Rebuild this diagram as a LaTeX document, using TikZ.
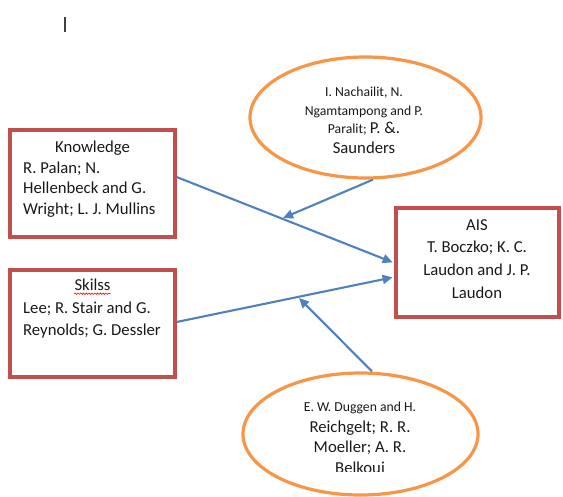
\documentclass[tikz,border=0pt]{standalone}
\usepackage{fontspec}
\setmainfont{Carlito}
\usetikzlibrary{arrows.meta,shapes.geometric,decorations.pathmorphing}
\definecolor{boxred}{RGB}{192,80,77}
\definecolor{ellorange}{RGB}{247,150,70}
\definecolor{arrowblue}{RGB}{79,129,189}
\newcommand{\bigtxt}{\fontsize{16.7}{20.5}\selectfont}
\newcommand{\smalltxt}{\fontsize{13.7}{18.3}\selectfont}

\begin{document}
\begin{tikzpicture}[x=1pt,y=-1pt,
    factor/.style={draw=boxred,line width=3.2pt,minimum width=165pt,minimum height=107pt,inner sep=0pt},
    source/.style={draw=ellorange,line width=3.2pt,ellipse,inner sep=0pt},
    names/.style={inner sep=0pt,font=\bigtxt,text=black!90},
    link/.style={draw=arrowblue,line width=2.1pt,-{Triangle[length=10pt,width=9pt]}}]

      \useasboundingbox (0,0) rectangle (563,496);
      % cursor
      \draw[line width=1.4pt,color=black!75] (65,17) -- (65,32);

      % boxes and ellipses
      \node[factor] (know) at (92.5,183.5) {};
      \node[factor] (skill) at (92.5,323.5) {};
      \node[factor,minimum width=163pt,minimum height=109pt] (ais) at (477.5,262.5) {};
      \node[source,minimum width=231pt,minimum height=121pt] (topell) at (365.5,117.5) {};
      \node[source,minimum width=235pt,minimum height=122pt] (botell) at (360.5,434) {};

      % texts
      \node[names,anchor=base] (knowtitle) at (92.5,152) {Knowledge};
      \node[names,anchor=north west,align=left] (knowref) at (23,161.5)
        {R. Palan; N.\\Hellenbeck and G.\\Wright; L. J. Mullins};
      \node[names,anchor=base] (skilltitle) at (92.5,290.7) {Skilss};
      \draw[red,line width=0.6pt,decorate,decoration={snake,amplitude=0.7pt,segment length=2.8pt}]
        ([yshift=-3pt]skilltitle.base west) -- ([yshift=-3pt]skilltitle.base east);
      \node[names,anchor=north west,align=left,font=\fontsize{16.7}{22}\selectfont] (skillref) at (23,301.5)
        {Lee; R. Stair and G.\\Reynolds; G. Dessler};
      \node[names,anchor=north,align=center,font=\fontsize{16.7}{22.7}\selectfont] (aisref) at (477,219)
        {AIS\\T. Boczko; K. C.\\Laudon and J. P.\\Laudon};
      \node[names,anchor=north,align=center,font=\smalltxt] (topref) at (364,87)
        {I. Nachailit, N.\\Ngamtampong and P.\\Paralit; {\bigtxt P. \&.}\\[1.5pt]{\bigtxt Saunders}};
      \begin{scope}
        \clip (0,0) rectangle (563,471);
        \node[names,anchor=north,align=center] (botref) at (360,402)
          {{\smalltxt E. W. Duggen and H.}\\Reichgelt; R. R.\\Moeller; A. R.\\Belkoui};
      \end{scope}

      % arrows
      \coordinate (tipA) at (283,218);
      \coordinate (tipB) at (299,298);
      \draw[link,shorten >=1.8pt] ([yshift=6.5pt]know.east) -- ([yshift=-0.5pt]ais.west);
      \draw[link,shorten >=1.8pt] ([yshift=1.5pt]skill.east) -- ([yshift=-14.5pt]ais.west);
      \draw[link] ([xshift=7.5pt]topell.south) -- (tipA);
      \draw[link] ([xshift=11.5pt]botell.north) -- (tipB);
\end{tikzpicture}
\end{document}
